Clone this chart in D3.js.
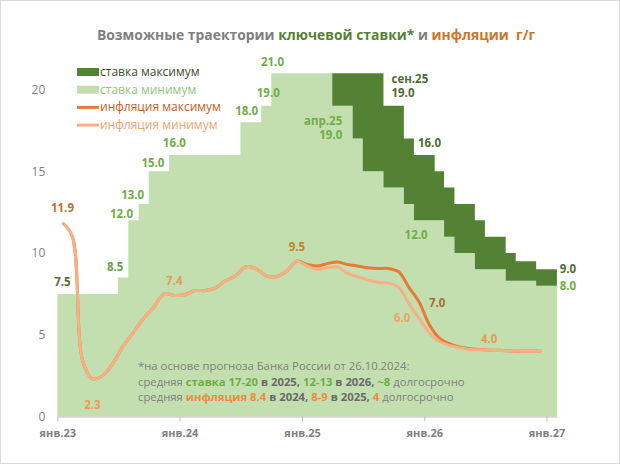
<!DOCTYPE html>
<html>
<head>
<meta charset="utf-8">
<script src="https://cdn.jsdelivr.net/npm/d3@7"></script>
<style>
body { margin: 0; background: #fff; }
text { font-family: "Open Sans", sans-serif; }
</style>
</head>
<body>
<svg id="chart" width="620" height="465"></svg>
<script>
// ставка по месяцам, янв.23 .. янв.27 (49 мес.)
var rateMin = [7.5, 7.5, 7.5, 7.5, 7.5, 7.5, 8.5, 12, 13, 15, 15,
  16, 16, 16, 16, 16, 16, 16, 18, 18, 19, 21, 21, 21, 21, 21, 21,
  19, 19, 17, 15, 15, 14, 14, 13, 12, 12, 12, 11, 10, 10, 9, 9, 9,
  8.3, 8.3, 8.3, 8, 8];
var rateMax = [7.5, 7.5, 7.5, 7.5, 7.5, 7.5, 8.5, 12, 13, 15, 15,
  16, 16, 16, 16, 16, 16, 16, 18, 18, 19, 21, 21, 21, 21, 21, 21,
  21, 21, 21, 21, 21, 19, 19, 17, 16, 16, 15, 14, 13, 13, 12, 11, 11,
  10, 9.5, 9.5, 9, 9];
// инфляция г/г, янв.23 .. дек.26 (48 мес.)
var inflMax = [11.85, 11.0, 3.5, 2.3, 2.5, 3.25, 4.3, 5.15, 6.0, 6.7, 7.5, 7.4,
  7.45, 7.7, 7.7, 7.85, 8.3, 8.6, 9.15, 9.05, 8.6, 8.55, 8.9, 9.5,
  9.3, 9.2, 9.35, 9.45, 9.3, 9.2, 9.1, 9.05, 9.05, 8.85, 7.9, 7.0,
  5.6, 4.8, 4.45, 4.25, 4.15, 4.1, 4.05, 4.05, 4.0, 4.0, 4.0, 4.0];
var inflMin = [11.85, 11.0, 3.5, 2.3, 2.5, 3.25, 4.3, 5.15, 6.0, 6.7, 7.5, 7.4,
  7.45, 7.7, 7.7, 7.85, 8.3, 8.6, 9.15, 9.05, 8.6, 8.55, 8.9, 9.5,
  9.2, 9.0, 9.1, 9.15, 8.75, 8.55, 8.35, 8.2, 8.15, 7.9, 6.9, 6.0,
  5.1, 4.6, 4.35, 4.2, 4.1, 4.08, 4.05, 4.03, 4.0, 4.0, 4.0, 4.0];
var yTicks = [0, 5, 10, 15, 20];
var xTickLabels = ["янв.23", "янв.24", "янв.25", "янв.26", "янв.27"];

// подписи: индекс месяца, значение, текст, сдвиг
var rateLabels = [
  {i: 0, v: 7.5, t: ["7.5"], dx: 0, dy: -12, c: "#4f7034", a: "middle"},
  {i: 6, v: 8.5, t: ["8.5"], dx: -8, dy: -11, c: "#6e9f4b", a: "middle"},
  {i: 7, v: 12, t: ["12.0"], dx: -12, dy: -6, c: "#70ad47", a: "middle"},
  {i: 8, v: 13, t: ["13.0"], dx: -11, dy: -9, c: "#70ad47", a: "middle"},
  {i: 9, v: 15, t: ["15.0"], dx: -1, dy: -8, c: "#70ad47", a: "middle"},
  {i: 11, v: 16, t: ["16.0"], dx: 0, dy: -12, c: "#70ad47", a: "middle"},
  {i: 18, v: 18, t: ["18.0"], dx: 1, dy: -11, c: "#70ad47", a: "middle"},
  {i: 20, v: 19, t: ["19.0"], dx: 2, dy: -13, c: "#70ad47", a: "middle"},
  {i: 21, v: 21, t: ["21.0"], dx: -4, dy: -11, c: "#70ad47", a: "middle"},
  {i: 27, v: 19, t: ["апр.25", "19.0"], dx: 5, dy: 15, c: "#70ad47", a: "end"},
  {i: 32, v: 19, t: ["сен.25", "19.0"], dx: 3, dy: -27, c: "#4e6b33", a: "start"},
  {i: 36, v: 16, t: ["16.0"], dx: 0, dy: -12, c: "#4e6b33", a: "middle"},
  {i: 35, v: 12, t: ["12.0"], dx: -3, dy: 15, c: "#70ad47", a: "middle"},
  {i: 48, v: 9, t: ["9.0"], dx: 8, dy: 0, c: "#4e6b33", a: "start"},
  {i: 48, v: 8, t: ["8.0"], dx: 8, dy: 0, c: "#70ad47", a: "start"}
];
var inflLabels = [
  {i: 0, v: 11.85, t: "11.9", dx: 0, dy: -15, c: "#c0702e"},
  {i: 3, v: 2.3, t: "2.3", dx: 0, dy: 26, c: "#ee9a55"},
  {i: 11, v: 7.4, t: "7.4", dx: 0, dy: -15, c: "#e99a55"},
  {i: 23, v: 9.5, t: "9.5", dx: 0, dy: -14, c: "#c8802a"},
  {i: 35, v: 7.0, t: "7.0", dx: 18, dy: 1, c: "#b06a2e"},
  {i: 35, v: 6.0, t: "6.0", dx: -17, dy: 0, c: "#efa565"},
  {i: 42, v: 4.05, t: "4.0", dx: -1, dy: -11, c: "#e59a4e"}
];

var svg = d3.select("#chart");
svg.append("rect").attr("x", 0.5).attr("y", 0.5).attr("width", 619).attr("height", 463)
  .attr("fill", "#fff").attr("stroke", "#d9d9d9");

var start = new Date(2023, 0, 1), end = new Date(2027, 1, 1);
var months = d3.timeMonth.range(start, end);
var x = d3.scaleTime().domain([start, end]).range([57.3, 556.9]);
var y = d3.scaleLinear().domain([0, 20]).range([416.5, 89.5]);
function xm(i) { // середина месяца
  return (x(months[i]) + x(d3.timeMonth.offset(months[i], 1))) / 2;
}

// ступенчатые области ставки
var rows = months.map(function(m, i) { return {d: m, lo: rateMin[i], hi: rateMax[i]}; });
rows.push({d: end, lo: rateMin[rateMin.length - 1], hi: rateMax[rateMax.length - 1]});

svg.append("path").datum(rows)
  .attr("fill", "#c3dfb0")
  .attr("d", d3.area().curve(d3.curveStepAfter)
    .x(function(d) { return x(d.d); }).y0(y(0)).y1(function(d) { return y(d.lo); }));
svg.append("path").datum(rows)
  .attr("fill", "#548235")
  .attr("d", d3.area().curve(d3.curveStepAfter)
    .x(function(d) { return x(d.d); })
    .y0(function(d) { return y(d.lo); }).y1(function(d) { return y(d.hi); }));

// оси
var xAxis = svg.append("g").attr("transform", "translate(0," + y(0) + ")")
  .call(d3.axisBottom(x)
    .tickValues(xTickLabels.map(function(t, k) { return new Date(2023 + k, 0, 1); }))
    .tickSize(5).tickSizeOuter(0).tickPadding(8)
    .tickFormat(function(d, k) { return xTickLabels[k]; }));
xAxis.select(".domain").attr("stroke", "#bfbfbf");
xAxis.selectAll(".tick line").attr("stroke", "#bfbfbf");
xAxis.selectAll(".tick text").attr("fill", "#7f7f7f").attr("font-size", "11px")
  .attr("font-weight", "bold").attr("font-family", "Open Sans, sans-serif");

var yAxis = svg.append("g").attr("transform", "translate(57.3,0)")
  .call(d3.axisLeft(y).tickValues(yTicks).tickSize(0).tickPadding(12));
yAxis.select(".domain").remove();
yAxis.selectAll(".tick text").attr("fill", "#7f7f7f").attr("font-size", "12px")
  .attr("font-family", "Open Sans, sans-serif");

// линии инфляции
var line = d3.line().curve(d3.curveCatmullRom.alpha(0.5))
  .x(function(d, i) { return xm(i); }).y(function(d) { return y(d); });
svg.append("path").datum(inflMax).attr("fill", "none").attr("stroke", "#e87a36")
  .attr("stroke-width", 3).attr("stroke-linejoin", "round").attr("d", line);
svg.append("path").datum(inflMin).attr("fill", "none").attr("stroke", "#f4b183")
  .attr("stroke-width", 3).attr("stroke-linejoin", "round").attr("d", line);

// подписи значений
rateLabels.forEach(function(l) {
  var t = svg.append("text").attr("text-anchor", l.a).attr("fill", l.c)
    .attr("font-size", "11.5px").attr("font-weight", "bold");
  l.t.forEach(function(s, k) {
    t.append("tspan").attr("x", xm(l.i) + l.dx)
      .attr("y", y(l.v) + l.dy + 4 + k * 14).text(s);
  });
});
inflLabels.forEach(function(l) {
  svg.append("text").attr("text-anchor", "middle").attr("fill", l.c)
    .attr("font-size", "11.5px").attr("font-weight", "bold")
    .attr("x", xm(l.i) + l.dx).attr("y", y(l.v) + l.dy + 4).text(l.t);
});

// заголовок
var title = svg.append("text").attr("x", 316).attr("y", 40).attr("text-anchor", "middle")
  .attr("font-size", "13.9px").attr("font-weight", "bold").attr("xml:space", "preserve");
title.append("tspan").attr("fill", "#7f7f7f").text("Возможные траектории ");
title.append("tspan").attr("fill", "#548235").text("ключевой ставки*");
title.append("tspan").attr("fill", "#7f7f7f").text(" и ");
title.append("tspan").attr("fill", "#d0742a").text("инфляции  г/г");

// легенда
var legend = [
  {t: "ставка максимум", c: "#3b4d2e", type: "rect", f: "#548235"},
  {t: "ставка минимум", c: "#94c47a", type: "rect", f: "#c3dfb0"},
  {t: "инфляция максимум", c: "#c0612a", type: "line", f: "#e87a36"},
  {t: "инфляция минимум", c: "#efa26a", type: "line", f: "#f4b183"}
];
legend.forEach(function(l, k) {
  var cy = 72 + k * 17.7;
  if (l.type == "rect") {
    svg.append("rect").attr("x", 77).attr("y", cy - 4).attr("width", 22).attr("height", 8).attr("fill", l.f);
  } else {
    svg.append("line").attr("x1", 77).attr("x2", 99).attr("y1", cy).attr("y2", cy)
      .attr("stroke", l.f).attr("stroke-width", 3);
  }
  svg.append("text").attr("x", 100).attr("y", cy + 4).attr("fill", l.c)
    .attr("font-size", "12px").text(l.t);
});

// примечание
var notes = [
  [["*на основе прогноза Банка России от 26.10.2024:", "#7f7f7f", "normal"]],
  [["средняя ", "#7f7f7f", "normal"], ["ставка 17-20", "#70ad47", "bold"], [" в 2025, ", "#6a6a6a", "bold"],
   ["12-13", "#70ad47", "bold"], [" в 2026, ", "#6a6a6a", "bold"], ["~8", "#70ad47", "bold"],
   [" долгосрочно", "#7f7f7f", "normal"]],
  [["средняя ", "#7f7f7f", "normal"], ["инфляция 8.4", "#f08a3c", "bold"], [" в 2024, ", "#6a6a6a", "bold"],
   ["8-9", "#f08a3c", "bold"], [" в 2025, ", "#6a6a6a", "bold"], ["4", "#f08a3c", "bold"],
   [" долгосрочно", "#7f7f7f", "normal"]]
];
notes.forEach(function(parts, k) {
  var t = svg.append("text").attr("x", 138).attr("y", 370 + k * 15.5)
    .attr("font-size", "11.3px").attr("xml:space", "preserve");
  parts.forEach(function(p) {
    t.append("tspan").attr("fill", p[1]).attr("font-weight", p[2]).text(p[0]);
  });
});
</script>
</body>
</html>
